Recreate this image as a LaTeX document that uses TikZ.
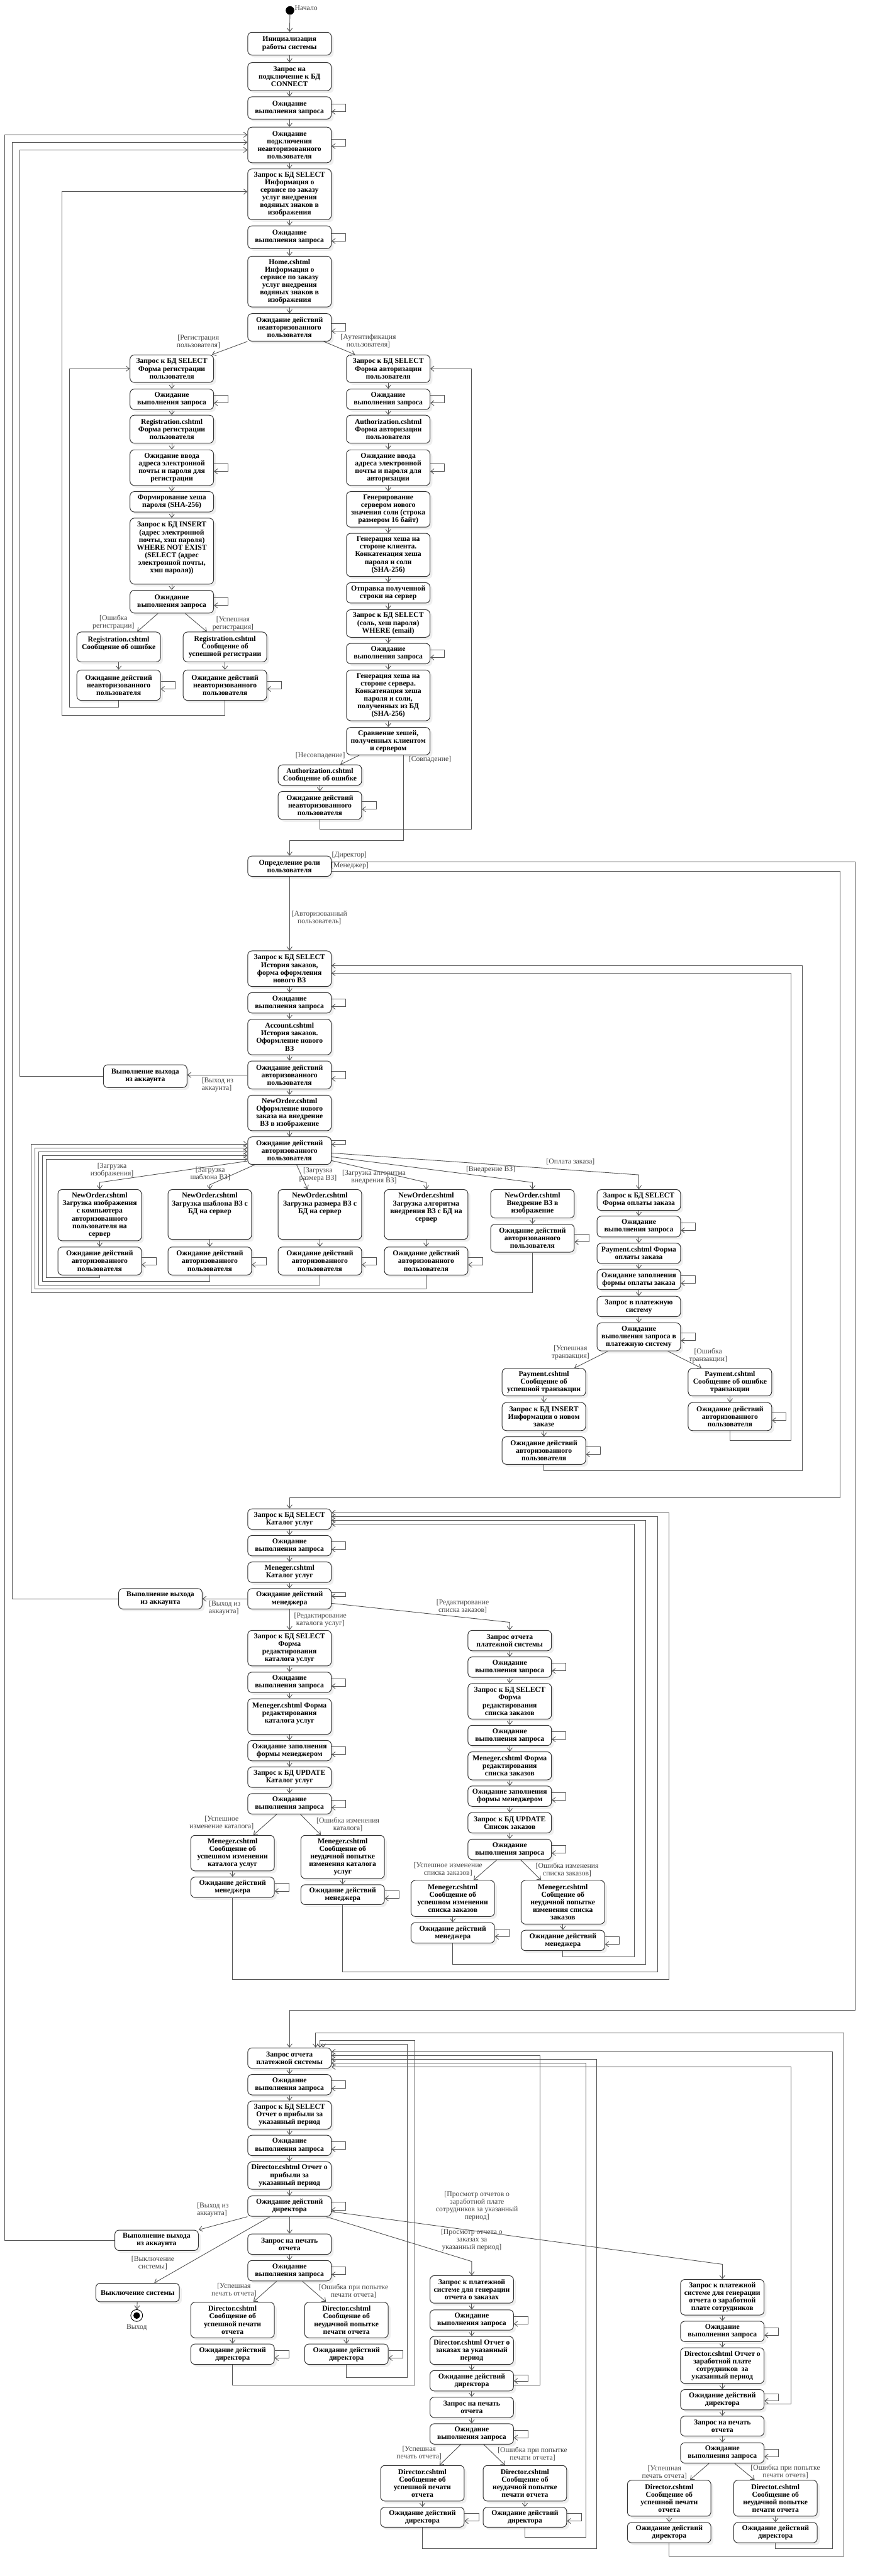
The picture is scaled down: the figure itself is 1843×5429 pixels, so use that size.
\documentclass[tikz,border=0pt]{standalone}
\usepackage{fontspec}
\setmainfont{Liberation Serif}
\usetikzlibrary{arrows.meta,shadows}
\definecolor{lnc}{HTML}{555555}
\definecolor{bdc}{HTML}{333333}
\definecolor{ltc}{HTML}{444444}
\tikzset{
 bx/.style={draw=bdc, line width=1.3pt, rounded corners=9pt, fill=white, minimum width=176pt, inner sep=1pt, align=center, font=\fontsize{15.5}{16}\selectfont\bfseries, drop shadow={shadow xshift=5pt,shadow yshift=-5pt,opacity=0.12}},
 ar/.style={draw=lnc, line width=1.2pt, -{Straight Barb[length=7pt,width=11pt]}},
 lbl/.style={text=ltc, align=center, font=\fontsize{15.5}{16}\selectfont, inner sep=0pt},
}
\newcommand\bx[5]{\node[bx,minimum height={(#4)-(#3)}] (#1) at (#2,{((#3)+(#4))/2}) {#5};}
\newcommand\lp[1]{\draw[ar] ([yshift=8pt]#1.east) -- ++(30,0) -- ++(0,16) -- ([yshift=-8pt]#1.east);}
\newcommand\lpy[3]{\draw[ar] (#1.east |- 0,#2) -- ++(30,0) |- (#1.east |- 0,#3);}
\begin{document}
\begin{tikzpicture}[x=1pt,y=-1pt]
\fill[white] (0,0) rectangle (1843,5429);
\useasboundingbox (0,0) rectangle (1843,5429);
% ---------- top ----------
\node[circle,fill=black,minimum size=18pt,inner sep=0pt] (st) at (611,22) {};
\node[lbl,anchor=west] (lst) at (621,17) {Начало};
\bx{B1}{610}{68}{116}{Инициализация\\работы системы}
\bx{B2}{610}{132}{191}{Запрос на\\подключение к БД\\CONNECT}
\bx{B3}{610}{204}{251}{Ожидание\\выполнения запроса}
\bx{B4}{610}{268}{343}{Ожидание\\подключения\\неавторизованного\\пользователя}
\bx{B5}{610}{356}{463}{Запрос к БД SELECT\\Информация о\\сервисе по заказу\\услуг внедрения\\водяных знаков в\\изображения}
\bx{B6}{610}{476}{524}{Ожидание\\выполнения запроса}
\bx{B7}{610}{540}{647}{Home.cshtml\\Информация о\\сервисе по заказу\\услуг внедрения\\водяных знаков в\\изображения}
\bx{B8}{610}{661}{719}{Ожидание действий\\неавторизованного\\пользователя}
% ---------- registration ----------
\bx{R1}{362}{748}{806}{Запрос к БД SELECT\\Форма регистрации\\пользователя}
\bx{R2}{362}{820}{863}{Ожидание\\выполнения запроса}
\bx{R3}{362}{875}{934}{Registration.cshtml\\Форма регистрации\\пользователя}
\bx{R4}{362}{948}{1023}{Ожидание ввода\\адреса электронной\\почты и пароля для\\регистрации}
\bx{R5}{362}{1036}{1079}{Формирование хеша\\пароля (SHA-256)}
\bx{R6}{362}{1092}{1231}{Запрос к БД INSERT\\(адрес электронной\\почты, хэш пароля)\\WHERE NOT EXIST\\(SELECT (адрес\\электронной почты,\\хэш пароля))\\~}
\bx{R7}{362}{1244}{1292}{Ожидание\\выполнения запроса}
\bx{RE1}{250}{1332}{1395}{Registration.cshtml\\Сообщение об ошибке\\~}
\bx{RE2}{250}{1412}{1476}{Ожидание действий\\неавторизованного\\пользователя}
\bx{RS1}{474}{1332}{1395}{Registration.cshtml\\Сообщение об\\успешной регистраии}
\bx{RS2}{474}{1412}{1476}{Ожидание действий\\неавторизованного\\пользователя}
% ---------- authorization ----------
\bx{A1}{818}{748}{806}{Запрос к БД SELECT\\Форма авторизации\\пользователя}
\bx{A2}{818}{820}{863}{Ожидание\\выполнения запроса}
\bx{A3}{818}{875}{934}{Authorization.cshtml\\Форма авторизации\\пользователя}
\bx{A4}{818}{948}{1023}{Ожидание ввода\\адреса электронной\\почты и пароля для\\авторизации}
\bx{A5}{818}{1036}{1111}{Генерирование\\сервером нового\\значения соли (строка\\размером 16 байт)}
\bx{A6}{818}{1124}{1215}{Генерация хеша на\\стороне клиента.\\Конкатенация хеша\\пароля и соли\\(SHA-256)}
\bx{A7}{818}{1228}{1271}{Отправка полученной\\строки на сервер}
\bx{A8}{818}{1285}{1343}{Запрос к БД SELECT\\(соль, хеш пароля)\\WHERE (email)}
\bx{A9}{818}{1356}{1399}{Ожидание\\выполнения запроса}
\bx{A10}{818}{1412}{1519}{Генерация хеша на\\стороне сервера.\\Конкатенация хеша\\пароля и соли,\\полученных из БД\\(SHA-256)}
\bx{A11}{818}{1533}{1591}{Сравнение хешей,\\полученных клиентом\\и сервером}
\bx{AE1}{674}{1612}{1655}{Authorization.cshtml\\Сообщение об ошибке}
\bx{AE2}{674}{1668}{1727}{Ожидание действий\\неавторизованного\\пользователя}
% ---------- role ----------
\bx{Role}{610}{1804}{1847}{Определение роли\\пользователя}
% ---------- user ----------
\bx{U1}{610}{2004}{2079}{Запрос к БД SELECT\\История заказов,\\форма оформления\\нового ВЗ}
\bx{U2}{610}{2092}{2135}{Ожидание\\выполнения запроса}
\bx{U3}{610}{2148}{2223}{Account.cshtml\\История заказов.\\Оформление нового\\ВЗ}
\bx{U4}{610}{2236}{2295}{Ожидание действий\\авторизованного\\пользователя}
\bx{UX}{306}{2244}{2292}{Выполнение выхода\\из аккаунта}
\bx{U5}{610}{2308}{2383}{NewOrder.cshtml\\Оформление нового\\заказа на внедрение\\ВЗ в изображение}
\bx{U6}{610}{2396}{2454}{Ожидание действий\\авторизованного\\пользователя}
\bx{W1}{210}{2507}{2615}{NewOrder.cshtml\\Загрузка изображения\\с компьютера\\авторизованного\\пользователя на\\сервер}
\bx{W1b}{210}{2628}{2687}{Ожидание действий\\авторизованного\\пользователя}
\bx{W2}{442}{2507}{2612}{NewOrder.cshtml\\Загрузка шаблона ВЗ с\\БД на сервер\\~\\~\\~}
\bx{W2b}{442}{2628}{2687}{Ожидание действий\\авторизованного\\пользователя}
\bx{W3}{674}{2507}{2612}{NewOrder.cshtml\\Загрузка размера ВЗ с\\БД на сервер\\~\\~\\~}
\bx{W3b}{674}{2628}{2687}{Ожидание действий\\авторизованного\\пользователя}
\bx{W4}{898}{2507}{2612}{NewOrder.cshtml\\Загрузка алгоритма\\внедрения ВЗ с БД на\\сервер\\~\\~}
\bx{W4b}{898}{2628}{2687}{Ожидание действий\\авторизованного\\пользователя}
\bx{W5}{1122}{2507}{2567}{NewOrder.cshtml\\Внедрение ВЗ в\\изображение}
\bx{W5b}{1122}{2580}{2639}{Ожидание действий\\авторизованного\\пользователя}
\bx{P1}{1346}{2507}{2551}{Запрос к БД SELECT\\Форма оплаты заказа}
\bx{P2}{1346}{2563}{2607}{Ожидание\\выполнения запроса}
\bx{P3}{1346}{2620}{2663}{Payment.cshtml Форма\\оплаты заказа}
\bx{P4}{1346}{2675}{2718}{Ожидание заполнения\\формы оплаты заказа}
\bx{P5}{1346}{2732}{2775}{Запрос в платежную\\систему}
\bx{P6}{1346}{2788}{2847}{Ожидание\\выполнения запроса в\\платежную систему}
\bx{PS1}{1146}{2884}{2942}{Payment.cshtml\\Сообщение об\\успешной транзакции}
\bx{PS2}{1146}{2956}{3015}{Запрос к БД INSERT\\Информации о новом\\заказе}
\bx{PS3}{1146}{3028}{3086}{Ожидание действий\\авторизованного\\пользователя}
\bx{PE1}{1538}{2884}{2942}{Payment.cshtml\\Сообщение об ошибке\\транзакции}
\bx{PE2}{1538}{2956}{3015}{Ожидание действий\\авторизованного\\пользователя}
% ---------- manager ----------
\bx{M1}{610}{3180}{3223}{Запрос к БД SELECT\\Каталог услуг}
\bx{M2}{610}{3236}{3279}{Ожидание\\выполнения запроса}
\bx{M3}{610}{3292}{3335}{Meneger.cshtml\\Каталог услуг}
\bx{M4}{610}{3348}{3391}{Ожидание действий\\менеджера}
\bx{MX}{338}{3348}{3391}{Выполнение выхода\\из аккаунта}
\bx{MC1}{610}{3436}{3511}{Запрос к БД SELECT\\Форма\\редактирования\\каталога услуг}
\bx{MC2}{610}{3524}{3567}{Ожидание\\выполнения запроса}
\bx{MC3}{610}{3580}{3655}{Meneger.cshtml Форма\\редактирования\\каталога услуг\\~}
\bx{MC4}{610}{3668}{3711}{Ожидание заполнения\\формы менеджером}
\bx{MC5}{610}{3724}{3767}{Запрос к БД UPDATE\\Каталог услуг}
\bx{MC6}{610}{3780}{3823}{Ожидание\\выполнения запроса}
\bx{MCS1}{490}{3868}{3943}{Meneger.cshtml\\Сообщение об\\успешном изменении\\каталога услуг}
\bx{MCS2}{490}{3956}{3999}{Ожидание действий\\менеджера}
\bx{MCE1}{722}{3868}{3959}{Meneger.cshtml\\Сообщение об\\неудачной попытке\\изменения каталога\\услуг}
\bx{MCE2}{722}{3972}{4014}{Ожидание действий\\менеджера}
\bx{MO1}{1074}{3436}{3479}{Запрос отчета\\платежной системы}
\bx{MO2}{1074}{3492}{3535}{Ожидание\\выполнения запроса}
\bx{MO3}{1074}{3548}{3623}{Запрос к БД SELECT\\Форма\\редактирования\\списка заказов}
\bx{MO4}{1074}{3636}{3679}{Ожидание\\выполнения запроса}
\bx{MO5}{1074}{3692}{3751}{Meneger.cshtml Форма\\редактирования\\списка заказов}
\bx{MO6}{1074}{3764}{3807}{Ожидание заполнения\\формы менеджером}
\bx{MO7}{1074}{3820}{3863}{Запрос к БД UPDATE\\Список заказов}
\bx{MO8}{1074}{3876}{3919}{Ожидание\\выполнения запроса}
\bx{MOS1}{954}{3963}{4039}{Meneger.cshtml\\Сообщение об\\успешном изменении\\списка заказов}
\bx{MOS2}{954}{4052}{4095}{Ожидание действий\\менеджера}
\bx{MOE1}{1186}{3963}{4055}{Meneger.cshtml\\Собщение об\\неудачной попытке\\изменения списка\\заказов}
\bx{MOE2}{1186}{4068}{4111}{Ожидание действий\\менеджера}
% ---------- director ----------
\bx{D1}{610}{4316}{4359}{Запрос отчета\\платежной системы}
\bx{D2}{610}{4372}{4415}{Ожидание\\выполнения запроса}
\bx{D3}{610}{4428}{4487}{Запрос к БД SELECT\\Отчет о прибыли за\\указанный период}
\bx{D4}{610}{4500}{4543}{Ожидание\\выполнения запроса}
\bx{D5}{610}{4556}{4614}{Director.cshtml Отчет о\\прибыли за\\указанный период}
\bx{D6}{610}{4628}{4671}{Ожидание действий\\директора}
\bx{DX}{330}{4700}{4743}{Выполнение выхода\\из аккаунта}
\bx{OFF}{290}{4812}{4851}{Выключение системы}
\node[circle,draw=black,line width=1.2pt,fill=white,minimum size=25pt,inner sep=0pt] (fin) at (288,4880) {};
\node[circle,fill=black,minimum size=14pt,inner sep=0pt] (fin2) at (288,4880) {};
\node[lbl] (lfin) at (288,4905) {Выход};
\bx{D7}{610}{4708}{4751}{Запрос на печать\\отчета}
\bx{D8}{610}{4764}{4807}{Ожидание\\выполнения запроса}
\bx{DS1}{490}{4852}{4927}{Director.cshtml\\Сообщение об\\успешной печати\\отчета}
\bx{DS2}{490}{4940}{4983}{Ожидание действий\\директора}
\bx{DE1}{730}{4852}{4927}{Director.cshtml\\Сообщение об\\неудачной попытке\\печати отчета}
\bx{DE2}{730}{4940}{4983}{Ожидание действий\\директора}
\bx{DO1}{994}{4796}{4854}{Запрос к платежной\\системе для генерации\\отчета о заказах}
\bx{DO2}{994}{4868}{4911}{Ожидание\\выполнения запроса}
\bx{DO3}{994}{4924}{4983}{Director.cshtml Отчет о\\заказах за указанный\\период}
\bx{DO4}{994}{4996}{5039}{Ожидание действий\\директора}
\bx{DO5}{994}{5052}{5095}{Запрос на печать\\отчета}
\bx{DO6}{994}{5108}{5151}{Ожидание\\выполнения запроса}
\bx{DOS1}{890}{5196}{5271}{Director.cshtml\\Сообщение об\\успешной печати\\отчета}
\bx{DOS2}{890}{5284}{5326}{Ожидание действий\\директора}
\bx{DOE1}{1106}{5196}{5271}{Director.cshtml\\Сообщение об\\неудачной попытке\\печати отчета}
\bx{DOE2}{1106}{5284}{5326}{Ожидание действий\\директора}
\bx{DW1}{1522}{4804}{4879}{Запрос к платежной\\системе для генерации\\отчета о заработной\\плате сотрудников}
\bx{DW2}{1522}{4892}{4935}{Ожидание\\выполнения запроса}
\bx{DW3}{1522}{4948}{5023}{Director.cshtml Отчет о\\заработной плате\\сотрудников~ за\\указанный период}
\bx{DW4}{1522}{5036}{5079}{Ожидание действий\\директора}
\bx{DW5}{1522}{5092}{5134}{Запрос на печать\\отчета}
\bx{DW6}{1522}{5148}{5191}{Ожидание\\выполнения запроса}
\bx{DWS1}{1410}{5227}{5303}{Director.cshtml\\Сообщение об\\успешной печати\\отчета}
\bx{DWS2}{1410}{5316}{5359}{Ожидание действий\\директора}
\bx{DWE1}{1634}{5227}{5303}{Directot.cshtml\\Сообщение об\\неудачной попытке\\печати отчета}
\bx{DWE2}{1634}{5316}{5359}{Ожидание действий\\директора}
% ---------- labels ----------
\node[lbl] (lreg) at (418,720) {[Регистрация\\пользователя]};
\node[lbl] (lauth) at (776,719) {[Аутентификация\\пользователя]};
\node[lbl] (lrerr) at (239,1311) {[Ошибка\\регистрации]};
\node[lbl] (lrok) at (491,1314) {[Успешная\\регистрация]};
\node[lbl] (lnom) at (675,1593) {[Несовпадение]};
\node[lbl] (lmatch) at (906,1601) {[Совпадение]};
\node[lbl] (ldir) at (736,1802) {[Директор]};
\node[lbl] (lman) at (737,1825) {[Менеджер]};
\node[lbl] (lau) at (673,1934) {[Авторизованный\\пользователь]};
\node[lbl,anchor=west,align=left] (lux) at (425,2286) {[Выход из\\аккаунта]};
\node[lbl] (lw1) at (236,2466) {[Загрузка\\изображения]};
\node[lbl] (lw2) at (443,2473) {[Загрузка\\шаблона ВЗ]};
\node[lbl] (lw3) at (670,2475) {[Загрузка\\размера ВЗ]};
\node[lbl] (lw4) at (788,2481) {[Загрузка алгоритма\\внедрения ВЗ]};
\node[lbl] (lw5) at (1034,2465) {[Внедрение ВЗ]};
\node[lbl] (lpay) at (1202,2449) {[Оплата заказа]};
\node[lbl] (lts) at (1202,2851) {[Успешная\\транзакция]};
\node[lbl] (lte) at (1492,2857) {[Ошибка\\транзакции]};
\node[lbl,anchor=west,align=left] (lmx) at (440,3389) {[Выход из\\аккаунта]};
\node[lbl] (lmc) at (675,3414) {[Редактирование\\каталога услуг]};
\node[lbl] (lmo) at (975,3385) {[Редактирование\\списка заказов]};
\node[lbl] (lmcs) at (467,3841) {[Успешное\\изменение каталога]};
\node[lbl] (lmce) at (733,3845) {[Ошибка изменения\\каталога]};
\node[lbl] (lmos) at (944,3939) {[Успешное изменение\\списка заказов]};
\node[lbl] (lmoe) at (1195,3940) {[Ошибка изменения\\списка заказов]};
\node[lbl,anchor=west,align=left] (ldx) at (415,4657) {[Выход из\\аккаунта]};
\node[lbl] (loff) at (322,4769) {[Выключение\\системы]};
\node[lbl] (lds) at (493,4826) {[Успешная\\печать отчета]};
\node[lbl] (lde) at (745,4829) {[Ошибка при попытке\\печати отчета]};
\node[lbl] (ldo) at (994,4721) {[Просмотр отчета о\\заказах за\\указанный период]};
\node[lbl] (ldw) at (1005,4649) {[Просмотр отчетов о\\заработной плате\\сотрудников за указанный\\период]};
\node[lbl] (ldos) at (883,5170) {[Успешная\\печать отчета]};
\node[lbl] (ldoe) at (1122,5172) {[Ошибка при попытке\\печати отчета]};
\node[lbl] (ldws) at (1400,5211) {[Успешная\\печать отчета]};
\node[lbl] (ldwe) at (1655,5209) {[Ошибка при попытке\\печати отчета]};
% ---------- straight chains ----------
\foreach \a/\b in {st/B1,B1/B2,B2/B3,B3/B4,B4/B5,B5/B6,B6/B7,B7/B8,
 R1/R2,R2/R3,R3/R4,R4/R5,R5/R6,R6/R7,RE1/RE2,RS1/RS2,
 A1/A2,A2/A3,A3/A4,A4/A5,A5/A6,A6/A7,A7/A8,A8/A9,A9/A10,A10/A11,AE1/AE2,
 Role/U1,U1/U2,U2/U3,U3/U4,U4/U5,U5/U6,
 W1/W1b,W2/W2b,W3/W3b,W4/W4b,W5/W5b,P1/P2,P2/P3,P3/P4,P4/P5,P5/P6,PS1/PS2,PS2/PS3,PE1/PE2,
 M1/M2,M2/M3,M3/M4,M4/MC1,MC1/MC2,MC2/MC3,MC3/MC4,MC4/MC5,MC5/MC6,MCS1/MCS2,MCE1/MCE2,
 MO1/MO2,MO2/MO3,MO3/MO4,MO4/MO5,MO5/MO6,MO6/MO7,MO7/MO8,MOS1/MOS2,MOE1/MOE2,
 D1/D2,D2/D3,D3/D4,D4/D5,D5/D6,D6/D7,D7/D8,DS1/DS2,DE1/DE2,OFF/fin,
 DO1/DO2,DO2/DO3,DO3/DO4,DO4/DO5,DO5/DO6,DOS1/DOS2,DOE1/DOE2,
 DW1/DW2,DW2/DW3,DW3/DW4,DW4/DW5,DW5/DW6,DWS1/DWS2,DWE1/DWE2}
 {\draw[ar] (\a) -- (\b);}
% ---------- self loops ----------
\foreach \n in {B3,B6,B8,R2,R4,R7,RE2,RS2,A2,A4,A9,AE2,U2,U4,W1b,W2b,W3b,W4b,W5b,P2,P4,P6,PS3,PE2,
 M2,MC2,MC4,MC6,MCS2,MCE2,MO2,MO4,MO6,MO8,MOS2,MOE2,D2,D4,D6,D8,DS2,DE2,DO2,DO6,DOS2,DOE2,DW2,DW6}
 {\lp{\n}}
\lpy{B4}{293}{308}
\lpy{U6}{2403}{2412}
\lpy{M4}{3356}{3364}
\lpy{DO4}{5005}{5018}
\lpy{DW4}{5045}{5060}
% ---------- branches ----------
\draw[ar] (B8.south west) -- ([xshift=-4pt]R1.north east);
\draw[ar] ([xshift=72pt]B8.south) -- ([xshift=-70pt]A1.north);
\draw[ar] ([xshift=-29pt]R7.south) -- ([xshift=39pt]RE1.north);
\draw[ar] ([xshift=28pt]R7.south) -- ([xshift=-38pt]RS1.north);
\draw[ar] (RE2.south) |- (146,1491) |- (R1.west);
\draw[ar] (RS2.south) |- (130,1507) -- (130,404) -- (B5.west |- 0,404);
\draw[ar] ([xshift=-61pt]A11.south) -- ([xshift=43pt]AE1.north);
\draw[ar] (AE2.south) |- (993,1747) |- (A1.east);
\draw[ar] (A11.south -| 850,0) -- (850,1771) -- (610,1771) -- (Role);
\draw[ar] (Role.east |- 0,1817) -- (1802,1817) -- (1802,4236) -- (610,4236) -- (D1);
\draw[ar] (Role.east |- 0,1836) -- (1770,1836) -- (1770,3156) -- (610,3156) -- (M1);
% user
\draw[ar] (U4.west) -- (U4.west -| UX.east);
\draw[ar] (UX.west) -| (42,316) -- (B4.west |- 0,316);
\draw[ar] (U6.west |- 0,2447) -- (210,2492) -- (W1.north);
\draw[ar] (U6.south -| 537,0) -- (442,2497) -- (W2.north);
\draw[ar] (U6.south -| 625,0) -- (W3.north -| 648,0);
\draw[ar] (U6.east |- 0,2446) -- (898,2492) -- (W4.north);
\draw[ar] (U6.east |- 0,2438) -- (1122,2492) -- (W5.north);
\draw[ar] (U6.east |- 0,2430) -- (1346,2476) -- (P1.north);
\draw[ar] (W1b.south) |- (98,2692) |- (U6.west |- 0,2443);
\draw[ar] (W2b.south) |- (90,2700) |- (U6.west |- 0,2435);
\draw[ar] (W3b.south) |- (82,2708) |- (U6.west |- 0,2427);
\draw[ar] (W4b.south) |- (74,2716) |- (U6.west |- 0,2419);
\draw[ar] (W5b.south) |- (66,2724) |- (U6.west |- 0,2411);
\draw[ar] ([xshift=-65pt]P6.south) -- ([xshift=64pt]PS1.north);
\draw[ar] ([xshift=61pt]P6.south) -- ([xshift=-60pt]PE1.north);
\draw[ar] (PS3.south) |- (1690,3100) |- (U1.east |- 0,2035);
\draw[ar] (PE2.south) |- (1666,3036) |- (U1.east |- 0,2051);
% manager
\draw[ar] (M4.west) -- (M4.west -| MX.east);
\draw[ar] (MX.west) -| (26,300) -- (B4.west |- 0,300);
\draw[ar] (M4.east |- 0,3379) -- (1074,3419) -- (MO1.north);
\draw[ar] ([xshift=-27pt]MC6.south) -- ([xshift=44pt]MCS1.north);
\draw[ar] ([xshift=23pt]MC6.south) -- ([xshift=-46pt]MCE1.north);
\draw[ar] ([xshift=-27pt]MO8.south) -- ([xshift=44pt]MOS1.north);
\draw[ar] ([xshift=23pt]MO8.south) -- ([xshift=-46pt]MOE1.north);
\draw[ar] (MCS2.south) |- (1410,4172) |- (M1.east |- 0,3188);
\draw[ar] (MCE2.south) |- (1386,4156) |- (M1.east |- 0,3196);
\draw[ar] (MOS2.south) |- (1361,4140) |- (M1.east |- 0,3204);
\draw[ar] (MOE2.south) |- (1337,4124) |- (M1.east |- 0,3212);
% director
\draw[ar] (D6.south west) -- (DX.north east);
\draw[ar] (DX.west) -| (10,284) -- (B4.west |- 0,284);
\draw[ar] ([xshift=-41pt]D6.south) -- ([xshift=35pt]OFF.north);
\draw[ar] ([xshift=-27pt]D8.south) -- ([xshift=44pt]DS1.north);
\draw[ar] ([xshift=27pt]D8.south) -- ([xshift=-43pt]DE1.north);
\draw[ar] (DS2.south) |- (874,5027) |- (674,4300) -- (D1.north -| 674,0);
\draw[ar] (DE2.south) |- (858,5011) |- (681,4308) -- (D1.north -| 681,0);
\draw[ar] (D6.south -| 687,0) -- (994,4766) -- (DO1.north);
\draw[ar] (D6.east |- 0,4661) -- (1522,4772) -- (DW1.north);
\draw[ar] ([xshift=-23pt]DO6.south) -- ([xshift=36pt]DOS1.north);
\draw[ar] ([xshift=25pt]DO6.south) -- ([xshift=-42pt]DOE1.north);
\draw[ar] ([xshift=-28pt]DW6.south) -- ([xshift=44pt]DWS1.north);
\draw[ar] ([xshift=26pt]DW6.south) -- ([xshift=-44pt]DWE1.north);
\draw[ar] (DO4.east |- 0,5027) -| (1138,4332) -- (D1.east |- 0,4332);
\draw[ar] (DOS2.south) |- (1257,5371) |- (D1.east |- 0,4340);
\draw[ar] (DOE2.south) |- (1234,5347) |- (D1.east |- 0,4348);
\draw[ar] (DW4.east |- 0,5067) -| (1666,4356) -- (D1.east |- 0,4356);
\draw[ar] (DWE2.south) |- (1754,5371) |- (D1.east |- 0,4324);
\draw[ar] (DWS2.south) |- (1778,5387) |- (665,4284) -- (D1.north -| 665,0);
\end{tikzpicture}
\end{document}
